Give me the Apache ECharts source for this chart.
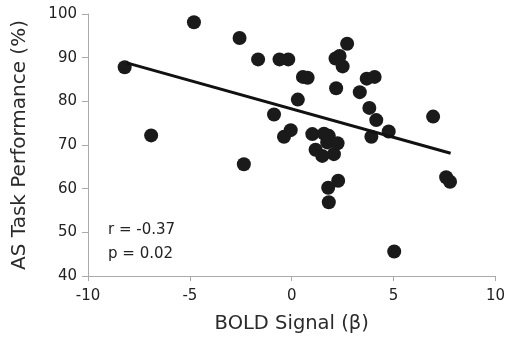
<!DOCTYPE html>
<html>
<head>
<meta charset="utf-8">
<script src="https://cdn.jsdelivr.net/npm/echarts@6/dist/echarts.min.js"></script>
<style>html,body{margin:0;padding:0;background:#fff}#c{width:508px;height:339px}</style>
</head>
<body>
<div id="c"></div>
<script>
const boldSignal = [-8.2, -6.9, -4.8, -2.56, -2.35, -1.65, -0.87, -0.6, -0.38, -0.17, -0.05, 0.3, 0.55, 0.78,
  1.01, 1.17, 1.5, 1.58, 1.74, 1.82, 2.07, 2.25, 1.79, 1.82, 2.28, 2.18, 2.15, 2.35, 2.5, 2.72,
  3.34, 3.68, 4.07, 3.81, 4.15, 3.91, 4.76, 5.03, 6.94, 7.58, 7.77];
const taskPerformance = [87.8, 72.2, 98.1, 94.5, 65.6, 89.6, 77.0, 89.6, 71.9, 89.6, 73.4, 80.4, 85.6, 85.4,
  72.5, 68.9, 67.5, 72.6, 70.6, 72.1, 67.9, 70.4, 60.2, 56.9, 61.8, 83.0, 89.8, 90.4, 88.0, 93.2,
  82.1, 85.2, 85.6, 78.5, 75.7, 71.9, 73.1, 45.6, 76.5, 62.6, 61.6];
const fitX = [-8.1, 7.8];
const fitY = [88.8, 68.1];
const xTicks = [-10, -5, 0, 5, 10];
const yTicks = [40, 50, 60, 70, 80, 90, 100];
const statR = 'r = -0.37';
const statP = 'p = 0.02';

const points = boldSignal.map((x, i) => [x, taskPerformance[i]]);
const fit = fitX.map((x, i) => [x, fitY[i]]);
const font = '"DejaVu Sans", Verdana, sans-serif';
const axisColor = '#aaaaaa';

const chart = echarts.init(document.getElementById('c'), null, {renderer: 'canvas'});
chart.setOption({
  animation: false,
  backgroundColor: '#fff',
  grid: {left: 88, right: 11, top: 14, bottom: 62, containLabel: false},
  xAxis: {
    type: 'value', min: xTicks[0], max: xTicks[xTicks.length - 1], interval: 5,
    name: 'BOLD Signal (\u03b2)', nameLocation: 'middle', nameGap: 38,
    nameTextStyle: {fontFamily: font, fontSize: 19.5, color: '#2a2a2a'},
    axisLine: {show: true, onZero: false, lineStyle: {color: axisColor, width: 1}},
    axisTick: {show: true, inside: false, length: 5, lineStyle: {color: axisColor}},
    axisLabel: {fontFamily: font, fontSize: 15, color: '#222', margin: 13},
    splitLine: {show: false}
  },
  yAxis: {
    type: 'value', min: yTicks[0], max: yTicks[yTicks.length - 1], interval: 10,
    name: 'AS Task Performance (%)', nameLocation: 'middle', nameGap: 58, nameRotate: 90,
    nameTextStyle: {fontFamily: font, fontSize: 20, color: '#2a2a2a'},
    axisLine: {show: true, onZero: false, lineStyle: {color: axisColor, width: 1}},
    axisTick: {show: true, inside: false, length: 6, lineStyle: {color: axisColor}},
    axisLabel: {fontFamily: font, fontSize: 15, color: '#222', margin: 11},
    splitLine: {show: false}
  },
  series: [
    {
      type: 'scatter', data: points, symbol: 'circle', symbolSize: 14,
      itemStyle: {color: '#1a1a1a', opacity: 1}, z: 3
    },
    {
      type: 'line', data: fit, symbol: 'none',
      lineStyle: {color: '#111', width: 3}, z: 4
    }
  ],
  graphic: [
    {type: 'text', left: 108, top: 223, style: {text: statR, font: '15px ' + font, fill: '#222'}},
    {type: 'text', left: 108, top: 247, style: {text: statP, font: '15px ' + font, fill: '#222'}}
  ]
});
</script>
</body>
</html>
